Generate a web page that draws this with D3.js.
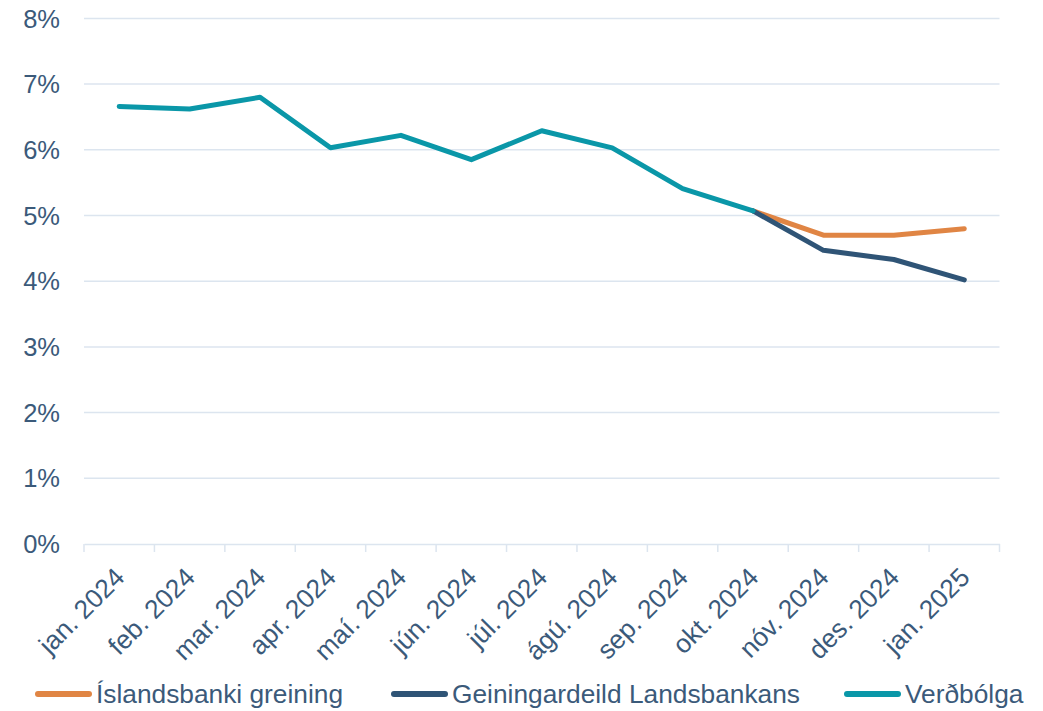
<!DOCTYPE html>
<html><head><meta charset="utf-8">
<script src="https://cdn.jsdelivr.net/npm/d3@7"></script>
<style>body{margin:0;background:#fff}svg{display:block}text{font-family:"Liberation Sans",Arial,sans-serif;fill:#3b5a7a}</style>
</head><body><svg id="c" width="1043" height="711"></svg>
<script>
const categories=["jan. 2024","feb. 2024","mar. 2024","apr. 2024","maí. 2024","jún. 2024","júl. 2024","ágú. 2024","sep. 2024","okt. 2024","nóv. 2024","des. 2024","jan. 2025"];
const verdbolga=[6.66,6.62,6.80,6.03,6.22,5.85,6.29,6.03,5.41,5.07,null,null,null];
const islandsbanki=[null,null,null,null,null,null,null,null,null,5.07,4.70,4.70,4.80];
const landsbankinn=[null,null,null,null,null,null,null,null,null,5.07,4.47,4.33,4.02];
const yTicks=[0,1,2,3,4,5,6,7,8];
const seriesNames=["Íslandsbanki greining","Geiningardeild Landsbankans","Verðbólga"];
const colors=["#e08544","#2f5476","#0a97a8"];

const svg=d3.select("#c");
const x=d3.scaleBand().domain(categories).range([84,999.5]);
const y=d3.scaleLinear().domain([0,8]).range([544,18.4]);

// gridlines
svg.append("g").selectAll("line").data(yTicks.slice(1)).join("line")
 .attr("x1",84).attr("x2",999.5).attr("y1",d=>y(d)).attr("y2",d=>y(d))
 .attr("stroke","#dce5ef").attr("stroke-width",1.5);

// y labels
svg.append("g").selectAll("text").data(yTicks).join("text")
 .attr("x",60).attr("y",d=>y(d)).attr("dy","0.36em").attr("text-anchor","end")
 .attr("font-size",25.5).text(d=>d+"%");

// x axis
const xa=svg.append("g").attr("transform","translate(0,544)")
 .call(d3.axisBottom(x).tickSize(0).tickFormat(""));
xa.select(".domain").attr("stroke","#dce5ef").attr("stroke-width",1.5);
const edges=categories.map(c=>x(c)).concat([x.range()[1]]);
svg.append("g").selectAll("line").data(edges).join("line")
 .attr("x1",d=>d).attr("x2",d=>d).attr("y1",544).attr("y2",552)
 .attr("stroke","#dce5ef").attr("stroke-width",1.5);

svg.append("g").selectAll("text").data(categories).join("text")
 .attr("transform",d=>`translate(${x(d)+x.bandwidth()/2+7},${579}) rotate(-45)`)
 .attr("text-anchor","end").attr("font-size",26.3).text(d=>d);

// lines
const line=d3.line().defined(d=>d.v!=null).x(d=>x(d.c)+x.bandwidth()/2).y(d=>y(d.v));
const series=[islandsbanki,landsbankinn,verdbolga];
series.forEach((s,i)=>{
 svg.append("path").datum(categories.map((c,j)=>({c,v:s[j]})))
  .attr("d",line).attr("fill","none").attr("stroke",colors[i])
  .attr("stroke-width",5).attr("stroke-linejoin","round").attr("stroke-linecap","round");
});

// legend
const legX=[36,392,845];
seriesNames.forEach((n,i)=>{
 svg.append("line").attr("x1",legX[i]+2).attr("x2",legX[i]+53).attr("y1",694).attr("y2",694)
  .attr("stroke",colors[i]).attr("stroke-width",6).attr("stroke-linecap","round");
 svg.append("text").attr("x",legX[i]+60).attr("y",694).attr("dy","0.36em")
  .attr("font-size",26.3).text(n);
});
</script></body></html>
